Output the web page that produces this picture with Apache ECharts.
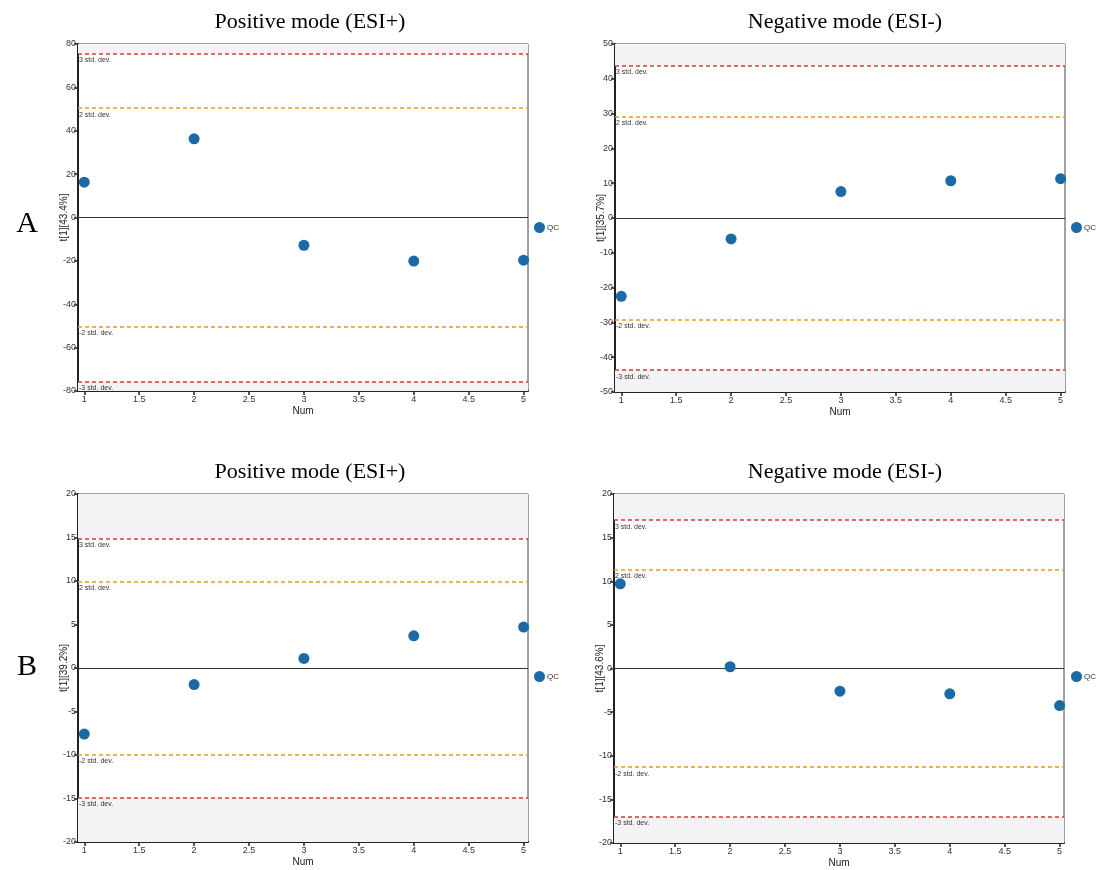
<!DOCTYPE html>
<html>
<head>
<meta charset="utf-8">
<script src="https://cdn.jsdelivr.net/npm/echarts@6/dist/echarts.min.js"></script>
<style>
html,body{margin:0;padding:0;background:#fff;}
#chart{width:1097px;height:870px;}
</style>
</head>
<body>
<div id="chart"></div>
<script>
const xVals = [1, 2, 3, 4, 5];
const xTicks = [1, 1.5, 2, 2.5, 3, 3.5, 4, 4.5, 5];
const posA = [16.3, 36.3, -12.8, -20.1, -19.7];
const negA = [-22.5, -6.0, 7.6, 10.7, 11.3];
const posB = [-7.6, -1.9, 1.1, 3.7, 4.7];
const negB = [9.7, 0.2, -2.6, -2.9, -4.25];
const std2 = [50.4, 29.2, 9.95, 11.3];
const std3 = [75.6, 43.7, 14.9, 17.0];
const yMaxes = [80, 50, 20, 20];
const yIntervals = [20, 10, 5, 5];
const yNames = ['t[1][43.4%]', 't[1][35.7%]', 't[1][39.2%]', 't[1][43.6%]'];
const panelTitles = ['Positive mode (ESI+)', 'Negative mode (ESI-)', 'Positive mode (ESI+)', 'Negative mode (ESI-)'];
const rowLabels = ['A', 'B'];
const legendName = 'QC';
const xName = 'Num';
const lineLabels3 = ['3 std. dev.', '-3 std. dev.'];
const lineLabels2 = ['2 std. dev.', '-2 std. dev.'];

const seriesData = [posA, negA, posB, negB];
const grids = [
  {left: 78, top: 44, width: 450, height: 347},
  {left: 615, top: 44, width: 450, height: 348},
  {left: 78, top: 494, width: 450, height: 348},
  {left: 614, top: 494, width: 450, height: 349}
];
const titlePos = [[305, 6], [840, 6], [305, 456], [840, 456]];
const legendPos = [[534, 222], [1071, 222], [534, 671], [1071, 671]];

const chart = echarts.init(document.getElementById('chart'));
const FONT = 'Liberation Sans';
const RED = '#d63a34';
const ORANGE = '#ec9a1c';
const DOT = '#1b6aa5';

const labelStyle = {position: 'insideStartBottom', distance: [1, 3], fontFamily: FONT, fontSize: 7, color: '#333', formatter: '{b}'};

const series = [];
seriesData.forEach((d, i) => {
  series.push({
    name: legendName, type: 'scatter', xAxisIndex: i, yAxisIndex: i,
    data: d.map((v, k) => [xVals[k], v]),
    symbolSize: 11,
    itemStyle: {color: DOT, opacity: 1},
    z: 5,
    markArea: {
      silent: true,
      itemStyle: {color: '#f3f2f4'},
      data: [
        [{yAxis: std3[i]}, {yAxis: yMaxes[i]}],
        [{yAxis: -yMaxes[i]}, {yAxis: -std3[i]}]
      ]
    }
  });
  series.push({
    name: 'std3_' + i, type: 'scatter', xAxisIndex: i, yAxisIndex: i, data: [], z: 3,
    markLine: {
      silent: true, symbol: 'none', animation: false,
      lineStyle: {color: RED, type: [4, 3], width: 1.5, opacity: 1},
      label: labelStyle,
      data: [{name: lineLabels3[0], yAxis: std3[i]}, {name: lineLabels3[1], yAxis: -std3[i]}]
    }
  });
  series.push({
    name: 'std2_' + i, type: 'scatter', xAxisIndex: i, yAxisIndex: i, data: [], z: 3,
    markLine: {
      silent: true, symbol: 'none', animation: false,
      lineStyle: {color: ORANGE, type: [4, 3], width: 1.5, opacity: 1},
      label: labelStyle,
      data: [{name: lineLabels2[0], yAxis: std2[i]}, {name: lineLabels2[1], yAxis: -std2[i]}]
    }
  });
  series.push({
    name: 'zero_' + i, type: 'scatter', xAxisIndex: i, yAxisIndex: i, data: [], z: 3,
    markLine: {
      silent: true, symbol: 'none', animation: false,
      lineStyle: {color: '#333', type: 'solid', width: 1},
      label: {show: false},
      data: [{yAxis: 0}]
    }
  });
});

const option = {
  animation: false,
  backgroundColor: '#fff',
  title: panelTitles.map((t, i) => ({
    text: t, left: titlePos[i][0], top: titlePos[i][1], textAlign: 'center',
    textStyle: {fontFamily: 'Liberation Serif', fontSize: 22, fontWeight: 'normal', color: '#000'}
  })).concat(rowLabels.map((t, i) => ({
    text: t, left: 22, top: i === 0 ? 204 : 647, textAlign: 'center',
    textStyle: {fontFamily: 'Liberation Serif', fontSize: 30, fontWeight: 'normal', color: '#000'}
  }))),
  legend: legendPos.map(p => ({
    data: [legendName], left: p[0], top: p[1], icon: 'circle', itemWidth: 11, itemHeight: 11,
    padding: 0, itemGap: 2, selectedMode: false,
    textStyle: {fontFamily: FONT, fontSize: 8, color: '#333', padding: [0, 0, 0, -3]}
  })),
  grid: grids.map(g => Object.assign({show: true, borderColor: '#444', borderWidth: 1, backgroundColor: '#fff'}, g)),
  xAxis: grids.map((g, i) => ({
    gridIndex: i, type: 'value', min: 0.943, max: 5.04,
    name: xName, nameLocation: 'middle', nameGap: 15, nameMoveOverlap: false,
    nameTextStyle: {fontFamily: FONT, fontSize: 10, color: '#222'},
    axisLine: {show: true, onZero: false, lineStyle: {color: '#222', width: 2}},
    axisTick: {show: true, length: 4, customValues: xTicks, lineStyle: {color: '#222', width: 1.5}},
    axisLabel: {customValues: xTicks, fontFamily: FONT, fontSize: 9, color: '#333', margin: 4},
    splitLine: {show: false}
  })),
  yAxis: grids.map((g, i) => ({
    gridIndex: i, type: 'value', min: -yMaxes[i], max: yMaxes[i], interval: yIntervals[i],
    name: yNames[i], nameLocation: 'middle', nameGap: 9, nameMoveOverlap: false,
    nameTextStyle: {fontFamily: FONT, fontSize: 10, color: '#222'},
    axisLine: {show: true, onZero: false, lineStyle: {color: '#222', width: 2}},
    axisTick: {show: true, length: 4, lineStyle: {color: '#222', width: 1.5}},
    axisLabel: {fontFamily: FONT, fontSize: 9, color: '#333', margin: 2},
    splitLine: {show: false}
  })),
  series: series
};
chart.setOption(option);
</script>
</body>
</html>
